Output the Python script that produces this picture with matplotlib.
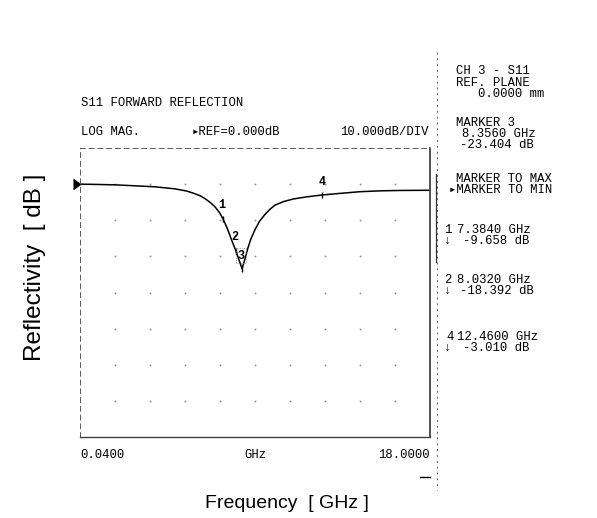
import numpy as np
import matplotlib
matplotlib.use("Agg")
import matplotlib.pyplot as plt
from matplotlib.lines import Line2D

# ---------------- data ----------------
freq_ghz = [0.04, 1.0, 1.84, 2.8, 3.9, 4.9, 5.5, 5.8, 6.2, 6.45, 6.75, 6.97, 7.2,
            7.384, 7.6, 7.8, 8.032, 8.2, 8.356, 8.5, 8.65, 8.8, 9.02, 9.25, 9.53,
            9.8, 10.05, 10.5, 11.0, 11.7, 12.46, 13.3, 14.4, 15.5, 16.5, 18.0]
s11_db = [0.0, -0.1, -0.2, -0.45, -0.75, -1.3, -1.9, -2.4, -3.2, -4.0, -5.2, -6.3, -7.9,
          -9.658, -12.3, -15.2, -18.392, -21.0, -23.404, -20.8, -17.8, -15.3, -12.6, -10.3, -8.4,
          -6.9, -5.8, -4.8, -4.1, -3.5, -3.01, -2.6, -2.1, -1.85, -1.75, -1.7]

marker_ids = ["1", "2", "3", "4"]
marker_freq = [7.384, 8.032, 8.356, 12.46]
marker_db = [-9.658, -18.392, -23.404, -3.010]

f_start, f_stop = 0.04, 18.0
ref_db, db_per_div = 0.0, 10.0

# ---------------- figure ----------------
W, H = 597, 518
fig = plt.figure(figsize=(W / 100, H / 100), dpi=100)
fig.patch.set_facecolor("white")

def fx(px):
    return px / W

def fy(py):
    return 1 - py / H

ax_l, ax_r, ax_t, ax_b = 80, 430, 148, 437
ax = fig.add_axes([fx(ax_l), fy(ax_b), (ax_r - ax_l) / W, (ax_b - ax_t) / H])
ax.set_xlim(f_start, f_stop)
ax.set_ylim(ref_db - 7 * db_per_div, ref_db + db_per_div)
ax.set_xticks([])
ax.set_yticks([])

# spines like the plotter frame
for s in ("left", "top"):
    ax.spines[s].set_linestyle((0, (5, 4)))
    ax.spines[s].set_linewidth(0.7)
    ax.spines[s].set_color("0.35")
ax.spines["bottom"].set_linewidth(1.0)
ax.spines["bottom"].set_color("0.25")
ax.spines["right"].set_linewidth(1.2)
ax.spines["right"].set_color("0.2")
ax.spines["right"].set_linestyle((0, (6, 1)))

# grid intersection dots
gx = np.linspace(f_start, f_stop, 11)[1:-1]
gy = np.arange(ref_db - 6 * db_per_div, ref_db + db_per_div, db_per_div)
GX, GY = np.meshgrid(gx, gy)
ax.plot(GX.ravel(), GY.ravel(), linestyle="none", marker="s", markersize=1.2,
        color="0.55", markeredgewidth=0)

# trace
ax.plot(freq_ghz, s11_db, color="black", linewidth=1.1)
# reference level pointer
ax.plot([f_start], [ref_db], marker=5, markersize=7, color="black", clip_on=False)

mono = ["Liberation Mono", "DejaVu Sans Mono"]

# markers
offsets = {"1": (-1, 14), "2": (-1, 14), "3": (-1, 13), "4": (0, 13)}
for mid, mf, md in zip(marker_ids, marker_freq, marker_db):
    ax.plot([mf], [md], marker="|", markersize=5, color="black", markeredgewidth=1.0)
    ox, oy = offsets[mid]
    ax.annotate(mid, (mf, md), xytext=(ox, oy), textcoords="offset pixels",
                ha="center", va="center", fontsize=8.5, family=mono, fontweight="bold",
                bbox=dict(boxstyle="square,pad=0.15", fc="none", ec="0.45", lw=0.6, ls=":")
                if mid == "3" else None)

# ---------------- annotation text ----------------
fs = 8.8

def t(px, py, s, ha="left"):
    fig.text(fx(px), fy(py), s, ha=ha, va="center", fontsize=fs, family=mono, color="black")

t(81, 102.5, "S11 FORWARD REFLECTION")
t(81, 131.7, "LOG MAG.")
t(192, 131.7, "\u25b8REF=0.000dB")
t(429, 131.7, "10.000dB/DIV", ha="right")

t(456, 71.5, "CH 3 - S11")
t(456, 82.5, "REF. PLANE")
t(478, 93.8, "0.0000 mm")
t(456, 122.7, "MARKER 3")
t(462, 133.7, "8.3560 GHz")
t(460, 144.7, "-23.404 dB")
t(456, 178.7, "MARKER TO MAX")
t(449, 190.3, "\u25b8MARKER TO MIN")

t(444, 230.3, "1")
t(457, 230.3, "7.3840 GHz")
t(444, 241.3, "\u2193")
t(463, 241.3, "-9.658 dB")
t(444, 279.7, "2")
t(457, 279.7, "8.0320 GHz")
t(444, 291, "\u2193")
t(460, 291, "-18.392 dB")
t(446, 337, "4")
t(457, 337, "12.4600 GHz")
t(444, 348, "\u2193")
t(463, 348, "-3.010 dB")

t(80, 455, "0.0400")
t(255, 455, "GHz", ha="center")
t(430, 455, "18.0000", ha="right")
fig.add_artist(Line2D([fx(420), fx(430)], [fy(477), fy(477)], color="black", lw=1.0))

# separator of the annotation panel
fig.add_artist(Line2D([fx(437), fx(437)], [fy(52), fy(490)], color="0.35", lw=0.7,
                      linestyle=(0, (2, 4))))
fig.add_artist(Line2D([fx(436), fx(436)], [fy(174), fy(262)], color="0.2", lw=0.9))

# axis titles
fig.text(fx(35), fy(267), "Reflectivity  [ dB ]", rotation=90, ha="center", va="center",
         fontsize=17.5, family=["Liberation Sans", "DejaVu Sans"])
fig.text(fx(287), fy(503), "Frequency  [ GHz ]", ha="center", va="center",
         fontsize=14, family=["Liberation Sans", "DejaVu Sans"])

fig.savefig("out.png", dpi=100, facecolor="white")
